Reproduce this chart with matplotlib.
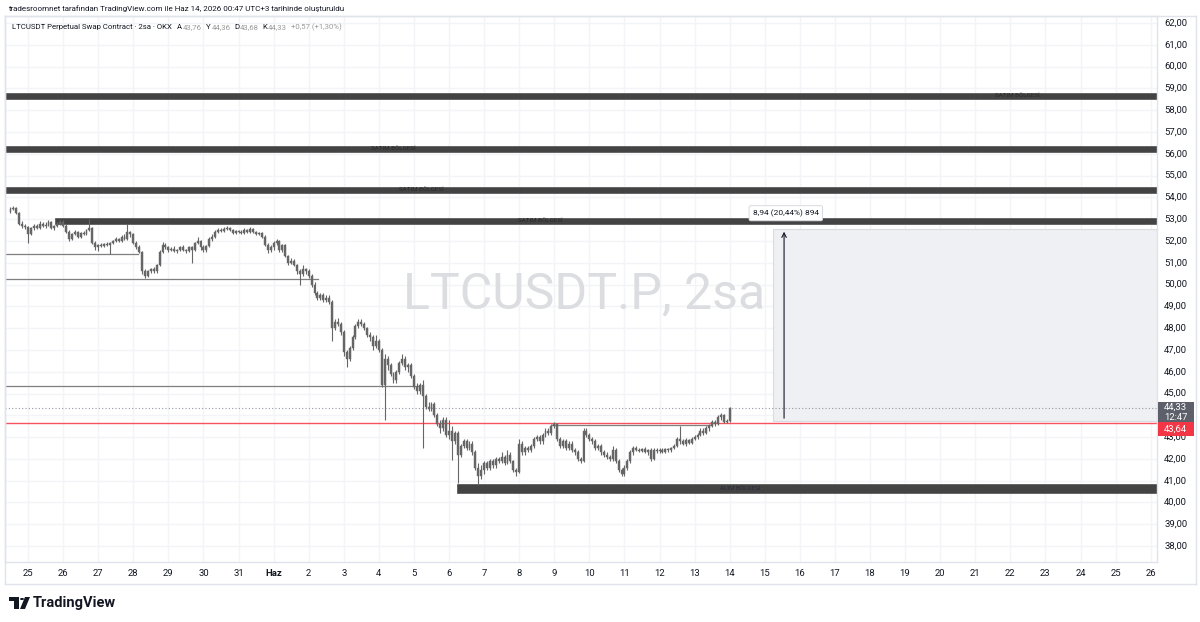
import numpy as np
import matplotlib
matplotlib.use("Agg")
import matplotlib.pyplot as plt
from matplotlib.patches import Rectangle, Polygon, Circle

plt.rcParams["font.family"] = ["Roboto", "DejaVu Sans"]

# ---------------------------------------------------------
# data: LTCUSDT.P 2h candles, 24 May 12:00 -> 14 Jun 00:00
# (one row per day, 12 candles of 2h; first row is half a day)
# ---------------------------------------------------------
first_open = 53.35

closes = [
    53.45, 53.5, 53.3, 52.8, 52.7, 52.65,
    52.3, 52.6, 52.7, 52.6, 52.8, 52.7, 52.75, 52.85, 52.6, 52.7, 52.8, 52.85,
    52.7, 52.4, 52.1, 52.3, 52.4, 52.2, 52.35, 52.3, 52.5, 52.6, 51.9, 51.7,
    51.8, 51.75, 51.85, 51.8, 51.9, 52.0, 52.1, 52.0, 52.2, 52.1, 52.4, 52.3,
    51.9, 51.7, 51.5, 50.6, 50.4, 50.6, 50.7, 50.6, 50.9, 51.5, 51.8, 51.7,
    51.6, 51.65, 51.55, 51.6, 51.7, 51.6, 51.55, 51.7, 51.6, 51.9, 52.0, 51.7,
    51.6, 51.75, 52.1, 52.2, 52.4, 52.5, 52.45, 52.55, 52.6, 52.5, 52.35, 52.45,
    52.4, 52.35, 52.5, 52.4, 52.55, 52.4, 52.3, 52.35, 52.2, 51.8, 51.6, 51.7,
    51.9, 52.0, 51.6, 51.8, 51.3, 51.0, 51.1, 50.9, 50.6, 50.5, 50.7, 50.6,
    50.4, 50.0, 49.6, 49.4, 49.5, 49.3, 49.4, 49.2, 48.0, 48.3, 48.2, 47.8,
    46.9, 46.6, 47.1, 47.6, 48.1, 48.3, 48.2, 48.0, 47.7, 47.6, 47.2, 47.4,
    47.0, 45.4, 46.6, 46.3, 45.9, 45.6, 46.0, 46.4, 46.6, 46.2, 46.3, 45.8,
    45.3, 45.1, 45.4, 44.9, 44.4, 44.3, 44.5, 44.0, 43.6, 43.4, 43.8, 43.1,
    43.3, 42.8, 43.2, 42.2, 42.6, 42.8, 42.5, 42.7, 42.3, 41.6, 41.2, 41.5,
    41.8, 41.6, 41.9, 41.7, 42.0, 41.9, 42.1, 41.8, 42.2, 41.9, 41.5, 41.4,
    42.7, 42.3, 42.5, 42.4, 42.6, 42.9, 43.0, 42.8, 43.1, 43.3, 43.2, 43.5,
    43.6, 42.9, 42.6, 42.8, 42.5, 42.7, 42.4, 42.3, 42.0, 41.9, 43.3, 43.1,
    42.9, 42.8, 42.5, 42.6, 42.3, 42.2, 42.1, 42.0, 42.4, 41.9, 41.5, 41.3,
    41.6, 41.9, 42.3, 42.5, 42.4, 42.35, 42.45, 42.3, 42.4, 42.0, 42.4, 42.35,
    42.4, 42.3, 42.45, 42.4, 42.5, 42.6, 42.9, 42.8, 42.7, 42.85, 42.75, 42.9,
    43.0, 43.1, 43.3, 43.2, 43.4, 43.5, 43.7, 43.6, 43.9, 44.0, 43.7, 43.76,
    44.33,
]

highs = [
    53.55, 53.6, 53.55, 53.35, 52.9, 52.8,
    52.7, 52.65, 52.8, 52.8, 52.9, 52.85, 52.85, 52.95, 52.9, 52.75, 52.85, 52.95,
    52.95, 52.8, 52.5, 52.35, 52.5, 52.45, 52.4, 52.45, 52.55, 53.0, 52.65, 52.0,
    51.85, 51.9, 51.9, 51.95, 51.95, 52.05, 52.2, 52.15, 52.25, 52.3, 52.8, 52.45,
    52.35, 52.0, 51.8, 51.55, 50.7, 50.65, 50.75, 50.8, 50.95, 51.6, 51.95, 51.9,
    51.75, 51.7, 51.75, 51.65, 51.75, 51.8, 51.65, 51.75, 51.75, 51.95, 52.2, 52.05,
    51.8, 51.8, 52.2, 52.3, 52.5, 52.6, 52.6, 52.65, 52.7, 52.65, 52.55, 52.5,
    52.5, 52.5, 52.6, 52.55, 52.65, 52.6, 52.45, 52.4, 52.4, 52.25, 51.9, 51.8,
    52.0, 52.1, 52.05, 51.85, 51.85, 51.35, 51.2, 51.15, 50.95, 50.7, 50.9, 50.75,
    50.7, 50.5, 50.1, 49.7, 49.6, 49.6, 49.5, 49.5, 49.3, 48.4, 48.45, 48.3,
    47.9, 47.0, 47.2, 47.7, 48.2, 48.4, 48.4, 48.3, 48.05, 47.8, 47.7, 47.7,
    47.5, 47.1, 46.8, 46.7, 46.4, 46.0, 46.1, 46.5, 46.8, 46.7, 46.4, 46.4,
    45.9, 45.5, 45.5, 45.6, 45.0, 44.6, 44.6, 44.6, 44.1, 43.8, 43.9, 43.9,
    43.8, 43.5, 43.3, 43.3, 42.7, 42.9, 42.9, 42.8, 42.8, 42.4, 41.8, 41.7,
    41.9, 41.9, 42.0, 42.0, 42.1, 42.1, 42.3, 42.2, 42.4, 42.3, 41.95, 41.6,
    42.9, 42.8, 42.6, 42.6, 42.7, 43.0, 43.1, 43.1, 43.2, 43.4, 43.4, 43.6,
    43.7, 43.65, 43.0, 42.9, 42.9, 42.8, 42.8, 42.5, 42.4, 42.1, 43.4, 43.4,
    43.2, 43.0, 42.9, 42.7, 42.7, 42.4, 42.3, 42.2, 42.6, 42.5, 42.0, 41.6,
    41.7, 42.0, 42.4, 42.6, 42.6, 42.5, 42.5, 42.55, 42.45, 42.5, 42.5, 42.5,
    42.5, 42.5, 42.5, 42.5, 42.55, 42.7, 43.0, 43.5, 42.9, 42.95, 42.9, 43.0,
    43.1, 43.2, 43.4, 43.4, 43.5, 43.6, 43.8, 43.8, 44.0, 44.1, 44.05, 43.85,
    44.36,
]

lows = [
    53.3, 53.4, 53.25, 52.75, 52.6, 52.55,
    51.9, 52.25, 52.5, 52.55, 52.55, 52.65, 52.6, 52.7, 52.55, 52.5, 52.65, 52.75,
    52.65, 52.35, 52.0, 52.05, 52.25, 52.15, 52.15, 52.25, 52.25, 52.45, 51.85, 51.6,
    51.55, 51.7, 51.7, 51.75, 51.4, 51.85, 51.95, 51.95, 51.95, 52.05, 52.05, 52.2,
    51.85, 51.65, 51.45, 50.5, 50.3, 50.35, 50.55, 50.55, 50.55, 50.85, 51.45, 51.65,
    51.5, 51.55, 51.5, 51.45, 51.55, 51.55, 51.45, 51.5, 51.0, 51.55, 51.85, 51.6,
    51.5, 51.5, 51.7, 52.0, 52.15, 52.35, 52.4, 52.4, 52.5, 52.45, 52.3, 52.3,
    52.35, 52.3, 52.3, 52.35, 52.35, 52.35, 52.25, 52.25, 52.15, 51.75, 51.45, 51.5,
    51.6, 51.8, 51.5, 51.5, 51.25, 50.9, 50.95, 50.85, 50.5, 50.0, 50.4, 50.5,
    50.3, 49.9, 49.5, 49.3, 49.3, 49.2, 49.2, 49.1, 47.4, 47.9, 48.1, 47.7,
    46.7, 46.2, 46.5, 47.0, 47.5, 48.0, 48.1, 47.9, 47.6, 47.4, 47.0, 47.1,
    46.9, 45.3, 43.8, 46.1, 45.8, 45.5, 45.5, 45.9, 46.3, 46.1, 46.0, 45.7,
    45.2, 45.0, 45.0, 42.5, 44.3, 44.2, 44.2, 43.9, 43.5, 43.2, 43.3, 43.0,
    42.9, 41.95, 42.7, 40.9, 42.1, 42.5, 42.4, 42.4, 42.2, 41.5, 40.8, 41.1,
    41.3, 41.5, 41.5, 41.6, 41.6, 41.8, 41.8, 41.7, 41.75, 41.8, 41.4, 41.2,
    41.35, 42.2, 42.2, 42.3, 42.3, 42.5, 42.8, 42.7, 42.7, 43.0, 43.1, 43.1,
    43.4, 42.8, 42.5, 42.5, 42.4, 42.4, 42.3, 42.2, 41.9, 41.8, 41.85, 43.0,
    42.8, 42.7, 42.4, 42.4, 42.2, 42.1, 42.0, 41.9, 41.9, 41.8, 41.4, 41.2,
    41.2, 41.5, 41.8, 42.2, 42.35, 42.3, 42.3, 42.25, 42.2, 41.9, 41.95, 42.25,
    42.25, 42.25, 42.25, 42.3, 42.3, 42.45, 42.55, 42.7, 42.65, 42.6, 42.7, 42.7,
    42.85, 42.9, 43.05, 43.1, 43.15, 43.3, 43.45, 43.5, 43.55, 43.8, 43.65, 43.65,
    43.68,
]

# zones and levels (price ranges)
sell_zones = [(58.51, 58.79, -0.7), (56.08, 56.36, -0.7), (54.20, 54.48, -0.7), (52.78, 53.06, 0.77)]
sell_label_x = [28.2, 10.4, 11.2, 14.6]
buy_zone = (40.44, 40.85, 12.23)
buy_label_x = 20.3

gray_levels = [(51.40, -0.7, 3.14), (50.26, -0.7, 8.27), (45.35, -0.7, 11.12), (43.56, 14.94, 19.44)]
red_level = 43.64
last_price = 44.33

measure_x = 21.55
measure_lo, measure_hi = 43.74, 52.55
measure_left = 21.24
measure_text = "8,94 (20,44%) 894"

day_labels = ["25", "26", "27", "28", "29", "30", "31", "Haz", "2", "3", "4", "5", "6", "7",
              "8", "9", "10", "11", "12", "13", "14", "15", "16", "17", "18", "19", "20",
              "21", "22", "23", "24", "25", "26"]
price_ticks = list(range(38, 63))

# ---------------------------------------------------------
W, H = 1200, 622
fig = plt.figure(figsize=(W / 100, H / 100), dpi=100)
fig.patch.set_facecolor("white")

ax_l, ax_r, ax_t, ax_b = 5, 1157, 16, 562
ax = fig.add_axes([ax_l / W, 1 - ax_b / H, (ax_r - ax_l) / W, (ax_b - ax_t) / H])
ax.set_xlim(-0.656, 32.18)
ax.set_ylim(37.27, 62.32)
ax.set_xticks([])
ax.set_yticks([])
for s in ax.spines.values():
    s.set_color("#e0e3eb")
    s.set_linewidth(1)

# grid
for d in range(len(day_labels)):
    ax.axvline(d, color="#f2f4f8", lw=1, zorder=0)
for p in price_ticks:
    ax.axhline(p, color="#f2f4f8", lw=1, zorder=0)

# watermark
ax.text(15.85, 48.88, "LTCUSDT.P, 2sa", fontsize=36, color="#dcdde0",
        ha="center", va="baseline", zorder=0.5)

# measure box
ax.add_patch(Rectangle((measure_left, measure_lo), 40, measure_hi - measure_lo,
                       facecolor="#eef0f3", edgecolor="#dadce0", lw=0.8, zorder=0.8))
ax.annotate("", xy=(measure_x, measure_hi), xytext=(measure_x, measure_lo),
            arrowprops=dict(arrowstyle="->", color="#131722", lw=0.8, mutation_scale=8),
            zorder=3)
ax.text(measure_x + 0.05, 53.27, measure_text, fontsize=6.0, color="#131722",
        ha="center", va="center", zorder=6,
        bbox=dict(boxstyle="round,pad=0.45,rounding_size=0.2", fc="white", ec="#d1d4dc", lw=0.6))

# zones
for (lo, hi, x0), lx in zip(sell_zones, sell_label_x):
    ax.add_patch(Rectangle((x0, lo), 40, hi - lo, facecolor="#434343",
                           edgecolor="#5d5d5d", lw=0.6, zorder=2))
    ax.text(lx, (lo + hi) / 2, "SATIM BÖLGESİ", fontsize=4.5, color="#2a2a2a",
            ha="center", va="center", zorder=2.5)
ax.add_patch(Rectangle((buy_zone[2], buy_zone[0]), 40, buy_zone[1] - buy_zone[0],
                       facecolor="#434343", edgecolor="#5d5d5d", lw=0.6, zorder=2))
ax.text(buy_label_x, sum(buy_zone[:2]) / 2, "ALIM BÖLGESİ", fontsize=4.5, color="#2a2a3a",
        ha="center", va="center", zorder=2.5)

# levels
for p, x0, x1 in gray_levels:
    ax.plot([x0, x1], [p, p], color="#7f7f7f", lw=0.9, zorder=2)
ax.axhline(red_level, color="#f7525f", lw=1.0, zorder=2)
ax.axhline(last_price, color="#9598a1", lw=0.8, ls=(0, (1, 2)), zorder=1)

# candles
c = np.array(closes)
o = np.concatenate([[first_open], c[:-1]])
hi_ = np.array(highs)
lo_ = np.array(lows)
t = -0.5 + np.arange(len(c)) / 12.0
col = "#666666"
ax.vlines(t, lo_, hi_, color=col, lw=0.8, zorder=4)
body_lo = np.minimum(o, c)
body_h = np.maximum(np.abs(c - o), 0.03)
ax.bar(t, body_h, bottom=body_lo, width=0.055, color=col, edgecolor=col, lw=0.3, zorder=4)

# price axis labels
ytr = ax.get_yaxis_transform()
for p in price_ticks:
    if p == 44:
        continue
    ax.text(1.0063, p, f"{p},00", transform=ytr, fontsize=6.8, color="#131722",
            ha="left", va="center", clip_on=False)

def axis_box(p0, p1, fc, lines):
    ax.add_patch(Rectangle((1.0005, p0), 0.0315, p1 - p0, transform=ytr, facecolor=fc,
                           edgecolor="none", clip_on=False, zorder=10))
    ax.text(1.0063, (p0 + p1) / 2, lines, transform=ytr, fontsize=6.8, color="white",
            ha="left", va="center", clip_on=False, zorder=11, linespacing=1.1)

axis_box(43.68, 44.60, "#5d606b", "44,33\n12:47")
axis_box(43.06, 43.68, "#f23645", "43,64")

# time axis
xtr = ax.get_xaxis_transform()
for d, lab in enumerate(day_labels):
    ax.text(d, -0.012, lab, transform=xtr, fontsize=6.8, color="#131722", ha="center", va="top",
            fontweight="bold" if lab == "Haz" else "normal", clip_on=False)

# outer frame lines
fig.add_artist(plt.Line2D([ax_l / W, ax_l / W], [1 - 584 / H, 1 - ax_t / H], color="#e0e3eb", lw=1))
fig.add_artist(plt.Line2D([ax_l / W, 1196 / W], [1 - 584 / H, 1 - 584 / H], color="#e0e3eb", lw=1))
fig.add_artist(plt.Line2D([ax_l / W, 1196 / W], [1 - ax_t / H, 1 - ax_t / H], color="#e0e3eb", lw=1))
fig.add_artist(plt.Line2D([1196 / W, 1196 / W], [1 - 584 / H, 1 - ax_t / H], color="#e0e3eb", lw=1))

# header + legend
fig.text(8 / W, 1 - 9 / H, "tradesroomnet tarafından TradingView.com ile Haz 14, 2026 00:47 UTC+3 tarihinde oluşturuldu",
         fontsize=5.8, color="#131722", ha="left", va="center")
fig.text(12 / W, 1 - 27 / H, "LTCUSDT Perpetual Swap Contract · 2sa · OKX", fontsize=5.6,
         color="#131722", ha="left", va="center")
legend_parts = [("A", 177, "#131722"), ("43,76", 183, "#9a9a9a"), ("Y", 206, "#131722"),
                ("44,36", 212, "#9a9a9a"), ("D", 234, "#131722"), ("43,68", 240, "#9a9a9a"),
                ("K", 262, "#131722"), ("44,33", 268, "#9a9a9a"), ("+0,57 (+1,30%)", 291, "#9a9a9a")]
for txt, px, cc in legend_parts:
    fig.text(px / W, 1 - 27 / H, txt, fontsize=5.6, color=cc, ha="left", va="center")

# TradingView logo
fig.add_artist(Polygon([[9 / W, 1 - 597 / H], [19 / W, 1 - 597 / H], [19 / W, 1 - 609 / H],
                        [14 / W, 1 - 609 / H], [14 / W, 1 - 601 / H], [9 / W, 1 - 601 / H]],
                       closed=True, transform=fig.transFigure, facecolor="#131722"))
fig.add_artist(Circle((22 / W, 1 - 599 / H), 2.0 / W, transform=fig.transFigure, facecolor="#131722"))
fig.add_artist(Polygon([[25 / W, 1 - 597 / H], [30 / W, 1 - 597 / H], [25 / W, 1 - 609 / H],
                        [20 / W, 1 - 609 / H]], closed=True, transform=fig.transFigure,
                       facecolor="#131722"))
fig.text(33 / W, 1 - 603 / H, "TradingView", fontsize=10.5, fontweight="bold",
         color="#131722", ha="left", va="center")

fig.savefig("out.png", dpi=100)
